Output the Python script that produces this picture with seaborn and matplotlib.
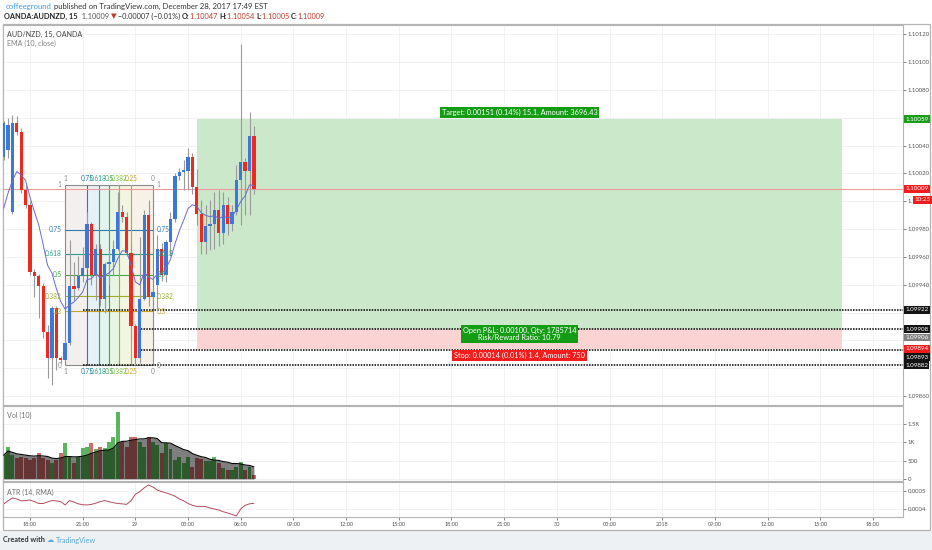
import numpy as np
import pandas as pd
import seaborn as sns
import matplotlib.pyplot as plt
from matplotlib.patches import Rectangle

# AUD/NZD 15 min candles, bar 0 = Dec 28 18:00
bars = np.arange(-6, 52)

opens = [1.10032, 1.10037, 1.09992, 1.10056, 1.10050, 1.10008, 1.09997, 1.09949, 1.09946, 1.09939,
         1.09906, 1.09887, 1.09923, 1.09887, 1.09886, 1.09898, 1.09939, 1.09938, 1.09946, 1.09952,
         1.09984, 1.09947, 1.09966, 1.09930, 1.09955, 1.09956, 1.09966, 1.09992, 1.09989, 1.09963,
         1.09910, 1.09887, 1.09930, 1.09990, 1.09931, 1.09940, 1.09966, 1.09947, 1.09971, 1.09987,
         1.10018, 1.10021, 1.10022, 1.10032, 1.10010, 1.09991, 1.09971, 1.09982, 1.09984, 1.09994,
         1.09977, 1.09997, 1.09984, 1.09992, 1.10015, 1.10028, 1.10022, 1.10047]
highs = [1.10058, 1.10060, 1.10062, 1.10061, 1.10053, 1.10012, 1.10000, 1.09951, 1.09948, 1.09941,
         1.09911, 1.09925, 1.09925, 1.09889, 1.09900, 1.09972, 1.09956, 1.09961, 1.09967, 1.09992,
         1.09985, 1.09969, 1.09969, 1.09956, 1.09965, 1.09972, 1.10007, 1.09997, 1.09992, 1.09969,
         1.09912, 1.09974, 1.09994, 1.10001, 1.09938, 1.09976, 1.09970, 1.09972, 1.09992, 1.10020,
         1.10024, 1.10030, 1.10038, 1.10035, 1.10023, 1.10001, 1.09997, 1.10001, 1.10007, 1.10008,
         1.10007, 1.10003, 1.09997, 1.10026, 1.10113, 1.10031, 1.10064, 1.10054]
lows = [1.10030, 1.10031, 1.09991, 1.10048, 1.10006, 1.09995, 1.09947, 1.09931, 1.09916, 1.09902,
        1.09873, 1.09868, 1.09879, 1.09884, 1.09884, 1.09897, 1.09929, 1.09936, 1.09942, 1.09951,
        1.09940, 1.09929, 1.09925, 1.09920, 1.09940, 1.09947, 1.09965, 1.09985, 1.09961, 1.09900,
        1.09882, 1.09884, 1.09929, 1.09925, 1.09929, 1.09922, 1.09943, 1.09942, 1.09961, 1.09985,
        1.10015, 1.10008, 1.10008, 1.10005, 1.09983, 1.09962, 1.09962, 1.09965, 1.09966, 1.09968,
        1.09969, 1.09976, 1.09979, 1.09990, 1.09983, 1.09990, 1.09990, 1.10005]
closes = [1.10056, 1.10055, 1.10056, 1.10050, 1.10008, 1.09997, 1.09949, 1.09946, 1.09939, 1.09906,
          1.09887, 1.09923, 1.09887, 1.09886, 1.09898, 1.09939, 1.09937, 1.09946, 1.09952, 1.09984,
          1.09947, 1.09966, 1.09930, 1.09955, 1.09956, 1.09966, 1.09992, 1.09989, 1.09963, 1.09910,
          1.09887, 1.09930, 1.09990, 1.09931, 1.09935, 1.09966, 1.09947, 1.09971, 1.09987, 1.10018,
          1.10021, 1.10022, 1.10032, 1.10010, 1.09991, 1.09971, 1.09982, 1.09984, 1.09994, 1.09977,
          1.09997, 1.09984, 1.09992, 1.10015, 1.10028, 1.10022, 1.10047, 1.10009]
volumes = [650, 880, 650, 570, 600, 570, 520, 570, 710, 570,
           520, 430, 520, 720, 980, 600, 430, 600, 850, 880,
           980, 820, 880, 850, 1020, 1150, 1840, 1020, 880, 1150,
           1150, 1020, 880, 1150, 1020, 930, 710, 980, 810, 520,
           600, 430, 600, 340, 570, 540, 480, 480, 600, 430,
           290, 250, 250, 340, 460, 250, 340, 100]
atr = [0.000427, 0.000445, 0.000460, 0.000455, 0.000444, 0.000446, 0.000449, 0.000440, 0.000430, 0.000430,
       0.000438, 0.000446, 0.000444, 0.000440, 0.000422, 0.000446, 0.000438, 0.000428, 0.000423, 0.000422,
       0.000425, 0.000432, 0.000440, 0.000446, 0.000440, 0.000434, 0.000430, 0.000428, 0.000425, 0.000445,
       0.000480, 0.000495, 0.000515, 0.000531, 0.000520, 0.000503, 0.000495, 0.000488, 0.000480, 0.000470,
       0.000455, 0.000445, 0.000430, 0.000420, 0.000414, 0.000414, 0.000413, 0.000405, 0.000400, 0.000394,
       0.000385, 0.000378, 0.000370, 0.000362, 0.000400, 0.000420, 0.000428, 0.000431]
ema_start = 1.09995

time_ticks = [0, 12, 24, 36, 48, 60, 72, 84, 96, 108, 120, 132, 144, 156, 168, 180, 192]
time_labels = ["18:00", "21:00", "29", "03:00", "06:00", "09:00", "12:00", "15:00", "18:00",
               "21:00", "30", "03:00", "2018", "09:00", "12:00", "15:00", "18:00"]
price_ticks = [1.09860, 1.09880, 1.09900, 1.09920, 1.09940, 1.09960, 1.09980,
               1.10000, 1.10020, 1.10040, 1.10060, 1.10080, 1.10100, 1.10120]
# labels that sit under a price tag on the scale are not visible
price_labels = ["1.09860", "", "", "", "1.09940", "1.09960", "1.09980",
                "1.10000", "1.10020", "1.10040", "", "1.10080", "1.10100", "1.10120"]
vol_ticks = [0, 500, 1000, 1500]
vol_labels = ["0", "500", "1K", "1.5K"]
atr_ticks = [0.0004, 0.0005]
atr_labels = ["0.0004", "0.0005"]

# fib retracement drawing
fib_bars = (8, 28)
fib_prices = (1.10012, 1.09882)  # level 1, level 0
fib_levels = [1, 0.75, 0.618, 0.5, 0.382, 0.3, 0]
fib_names = ["1", "0.75", "0.618", "0.5", "0.382", "0.3", "0"]
fib_colors = ["#8a8a8a", "#2f78b0", "#2a9d8a", "#43a547", "#9fae2a", "#c9a227", "#8a8a8a"]
tfib_levels = [1, 0.75, 0.618, 0.5, 0.382, 0.25, 0]
tfib_names = ["1", "0.75", "0.618", "0.5", "0.382", "0.25", "0"]
tfib_colors = ["#8a8a8a", "#2f78b0", "#2a9d8a", "#43a547", "#7bbf3a", "#c9a227", "#8a8a8a"]
tfib_fills = ["#f4efef", "#e6f1f7", "#e3f4ee", "#e8f5e3", "#f1f5e1", "#f6f2e8"]

# long position drawing
pos_bars = (38, 185)
entry, target, stop = 1.09908, 1.10059, 1.09894

ray_prices = [1.09922, 1.09908, 1.09893, 1.09882]
ray_starts = [12, 24.6, 24.6, 12]

tag_prices = [1.10059, 1.10009, 1.09922, 1.09908, 1.09906, 1.09894, 1.09893, 1.09882]
tag_colors = ["#1a9e1a", "#f21c1c", "#141414", "#141414", "#808080", "#f21c1c", "#141414", "#141414"]

W, H = 932, 550
BLUE, RED = "#3c78d8", "#ee2a1e"


def box(l, t, r, b):
    return [l / W, 1 - b / H, (r - l) / W, (b - t) / H]


sns.set_theme(style="white")
plt.rcParams['font.family'] = ['Lato', 'DejaVu Sans']

fig = plt.figure(figsize=(W / 100, H / 100), dpi=100, facecolor="#eef1f4")
fig.patches.append(Rectangle((0, 1 - 531 / H), 1, 531 / H, transform=fig.transFigure,
                             fc="white", ec="none", zorder=-10))
fig.patches.append(Rectangle((3 / W, 1 - 530 / H), 927 / W, 506 / H, transform=fig.transFigure,
                             fc="none", ec="#b4b4b4", lw=0.9, zorder=-5))

ax = fig.add_axes(box(3, 25, 903, 405))
axv = fig.add_axes(box(3, 406, 903, 481), sharex=ax)
axa = fig.add_axes(box(3, 482, 903, 517), sharex=ax)

o = np.array(opens); c = np.array(closes)
up = c >= o

# position tool areas
ax.fill_between(pos_bars, entry, target, color="#cbe8cb", lw=0, zorder=1)
ax.fill_between(pos_bars, stop, entry, color="#fbd3d3", lw=0, zorder=1)

# fib retracement
p1, p0 = fib_prices
t1, t0 = fib_bars
tx = [t0 - lv * (t0 - t1) for lv in tfib_levels]
for k in range(len(tx) - 1):
    ax.fill_between([tx[k], tx[k + 1]], p0, p1, color=tfib_fills[k], lw=0, zorder=1.2)
for lv, name, col in zip(fib_levels, fib_names, fib_colors):
    p = p0 + lv * (p1 - p0)
    ax.hlines(p, t1, t0, color=col, lw=0.8, zorder=1.5)
    ax.text(t1 - 0.8, p, name, ha="right", va="center", color=col, fontsize=4.7, zorder=6)
    ax.text(t0 + 0.8, p, name, ha="left", va="center", color=col, fontsize=4.7, zorder=6)
for t, name, col in zip(tx, tfib_names, tfib_colors):
    ax.vlines(t, p0, p1, color=col, lw=0.8, zorder=1.5)
    ax.annotate(name, (t, p1), xytext=(0, 2), textcoords="offset points", ha="center", va="bottom",
                color=col, fontsize=4.7, zorder=6)
    ax.annotate(name, (t, p0), xytext=(0, -2), textcoords="offset points", ha="center", va="top",
                color=col, fontsize=4.7, zorder=6)

# last price line
ax.axhline(closes[-1], color="#f19a9a", lw=0.8, zorder=1.6)

# candles
ax.vlines(bars, lows, highs, colors="#9a9a9a", lw=0.8, zorder=3)
ax.bar(bars, np.maximum(np.abs(c - o), 0.000015), bottom=np.minimum(o, c), width=0.74,
       color=np.where(up, BLUE, RED), lw=0, zorder=4)

# EMA 10
ema = [ema_start]
for v in closes[1:]:
    ema.append(ema[-1] + 2 / 11 * (v - ema[-1]))
sns.lineplot(x=bars, y=ema, ax=ax, color="#6a6ad4", lw=0.7, zorder=5)

# dotted rays
for p, s in zip(ray_prices, ray_starts):
    ax.hlines(p, s, 198.85, colors="black", linestyles=(0, (1, 0.8)), lw=1.1, zorder=2)

# position labels
mid = sum(pos_bars) / 2
lab = dict(ha="center", color="white", fontsize=5.3, zorder=8, annotation_clip=False)
ax.annotate("Target: 0.00151 (0.14%) 15.1, Amount: 3696.43", (mid, target), xytext=(0, 2.5),
            textcoords="offset points", va="bottom",
            bbox=dict(boxstyle="square,pad=0.25", fc="#149c14", ec="none"), **lab)
ax.annotate("Open P&L: 0.00100, Qty: 1785714\nRisk/Reward Ratio: 10.79", (mid, entry), xytext=(0, -3.5),
            textcoords="offset points", va="center", linespacing=0.9,
            bbox=dict(boxstyle="square,pad=0.25", fc="#149c14", ec="none"), **lab)
ax.annotate("Stop: 0.00014 (0.01%) 1.4, Amount: 750", (mid, stop), xytext=(0, -2.5),
            textcoords="offset points", va="top",
            bbox=dict(boxstyle="square,pad=0.25", fc="#f21c1c", ec="none"), **lab)

# price tags on the scale, pushed apart when they overlap
gap = 0.00006
last = None
for p, col in sorted(zip(tag_prices, tag_colors), reverse=True):
    y = p if last is None or last - p >= gap else last - gap
    last = y
    ax.annotate(f"{p:.5f}", (1.0, y), xycoords=("axes fraction", "data"), xytext=(1.5, 0),
                textcoords="offset points", ha="left", va="center", color="white", fontsize=4.5,
                bbox=dict(boxstyle="square,pad=0.22", fc=col, ec="none"), zorder=10,
                annotation_clip=False)
ax.annotate("10:25", (1.0, closes[-1]), xycoords=("axes fraction", "data"), xytext=(8.5, -8),
            textcoords="offset points", ha="left", va="center", color="white", fontsize=4.5,
            bbox=dict(boxstyle="square,pad=0.22", fc="#f21c1c", ec="none"), zorder=10,
            annotation_clip=False)

# volume pane
vdir = np.where(up, "up", "down")
sns.barplot(x=bars, y=volumes, hue=vdir, palette={"up": "#3fa83f", "down": "#c45252"},
            native_scale=True, dodge=False, width=0.9, errorbar=None, legend=False,
            saturation=1, alpha=0.85, linewidth=0, ax=axv)
vol_ma = pd.Series(volumes).rolling(10, min_periods=1).mean().values
axv.fill_between(bars, 0, vol_ma, color="black", alpha=0.5, lw=0, zorder=3)
sns.lineplot(x=bars, y=vol_ma, ax=axv, color="black", lw=0.8, zorder=4)

# ATR pane
sns.lineplot(x=bars, y=atr, ax=axa, color="#b24c5c", lw=0.7)

for a in (ax, axv, axa):
    a.set_facecolor("white")
    for s in a.spines.values():
        s.set_color("#b4b4b4")
        s.set_linewidth(0.8)
    a.yaxis.tick_right()
    a.tick_params(axis="y", labelsize=4.3, colors="#555555", length=2, width=0.5, pad=1.5, right=True)
    a.grid(True, color="#f0f0f0", lw=0.6)
    a.set_axisbelow(True)
    a.set_xlabel("")
    a.set_ylabel("")

ax.set_yticks(price_ticks)
ax.set_yticklabels(price_labels)
ax.set_ylim(1.098535, 1.101268)
axv.set_yticks(vol_ticks)
axv.set_yticklabels(vol_labels)
axv.set_ylim(-55, 1995)
axa.set_yticks(atr_ticks)
axa.set_yticklabels(atr_labels)
axa.set_ylim(0.000356, 0.0005475)

axa.set_xticks(time_ticks)
axa.set_xticklabels(time_labels)
axa.set_xlim(-6.15, 198.85)
ax.tick_params(axis="x", labelbottom=False, length=0)
axv.tick_params(axis="x", labelbottom=False, length=0)
axa.tick_params(axis="x", labelsize=4, colors="#555555", length=2, width=0.5, pad=1.5, bottom=True)


def ftext(x, y, s, **kw):
    return fig.text(x / W, 1 - y / H, s, va="center", ha="left", **kw)


ftext(7, 34, "AUD/NZD, 15, OANDA", fontsize=5.1, color="#444444")
ftext(7, 43, "EMA (10, close)", fontsize=5.1, color="#808080")
ftext(7, 415, "Vol (10)", fontsize=5.1, color="#707070")
ftext(7, 492, "ATR (14, RMA)", fontsize=5.1, color="#707070")


def chain(parts, x, y, size):
    prev = None
    for s, col, wt in parts:
        if prev is None:
            prev = ftext(x, y, s, color=col, fontweight=wt, fontsize=size)
        else:
            prev = ax.annotate(s, xy=(1, 0), xycoords=prev, va="bottom", ha="left", color=col,
                               fontweight=wt, fontsize=size, annotation_clip=False)


DR = "#c0392b"
chain([("coffeeground", "#3d9be9", "normal"),
       (" published on TradingView.com, December 28, 2017 17:49 EST", "#333333", "normal")], 6, 6, 5.55)
chain([("OANDA:AUDNZD, 15", "#222222", "bold"), ("  1.10009 ", "#555555", "normal"),
       ("\u25bc", DR, "normal"), (" \u22120.00007 (\u22120.01%) ", "#333333", "normal"),
       ("O:", "#222222", "bold"), ("1.10047 ", DR, "normal"), ("H:", "#222222", "bold"),
       ("1.10054 ", DR, "normal"), ("L:", "#222222", "bold"), ("1.10005 ", DR, "normal"),
       ("C:", "#222222", "bold"), ("1.10009", DR, "normal")], 4, 16, 5.3)

chain([("Created with ", "#333333", "bold"), ("\u2601 ", "#5aa8dc", "normal"),
       ("TradingView", "#5aa8dc", "normal")], 3, 540, 5.2)

fig.savefig("out.png", dpi=100, facecolor=fig.get_facecolor())
